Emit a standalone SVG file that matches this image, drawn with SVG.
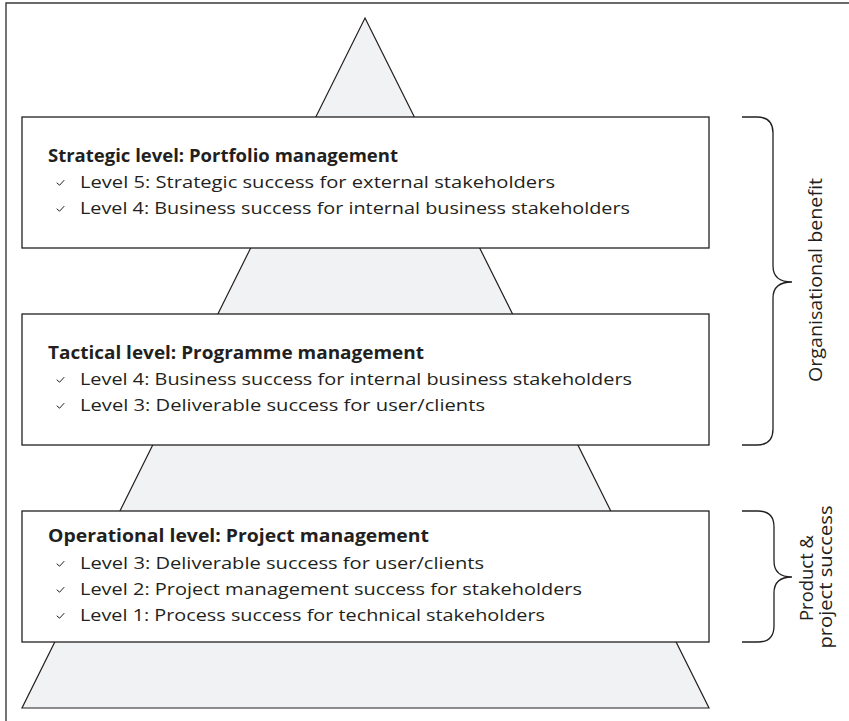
<svg xmlns="http://www.w3.org/2000/svg" xmlns:xlink="http://www.w3.org/1999/xlink" width="849" height="721" viewBox="0 0 849 721">
<style>
.frame{fill:none;stroke:#3a3a3a;stroke-width:1.4}
.pyr{fill:#f1f2f4;stroke:#231f20;stroke-width:1.2;stroke-linejoin:miter}
.box{fill:#ffffff;stroke:#231f20;stroke-width:1.3}
.brace{fill:none;stroke:#231f20;stroke-width:1.3}
.title{font-family:"Open Sans","Liberation Sans",sans-serif;font-size:17px;font-weight:700;fill:#231f20}
.item{font-family:"Open Sans","Liberation Sans",sans-serif;font-size:17px;fill:#231f20}
.side{font-family:"Open Sans","Liberation Sans",sans-serif;font-size:17.5px;fill:#231f20;text-anchor:middle}
.chk{fill:none;stroke:#231f20;stroke-width:1;stroke-linecap:round;stroke-linejoin:round}
</style>
<defs>
<path id="check" class="chk" d="M0,0 L2.6,2.2 L7,-2.6"/>
</defs>
<path class="frame" d="M849,3 H6 V721"/>
<g id="pyramid">
<polygon class="pyr" points="365,18 709,708 22,708"/>
</g>
<g id="strategic">
<rect class="box" x="22" y="117" width="687" height="131"/>
<text class="title" x="48" y="162" textLength="350" lengthAdjust="spacingAndGlyphs">Strategic level: Portfolio management</text>
<use xlink:href="#check" x="57" y="183"/>
<text class="item" x="80" y="188" textLength="475" lengthAdjust="spacingAndGlyphs">Level 5: Strategic success for external stakeholders</text>
<use xlink:href="#check" x="57" y="209"/>
<text class="item" x="80" y="214" textLength="550" lengthAdjust="spacingAndGlyphs">Level 4: Business success for internal business stakeholders</text>
</g>
<g id="tactical">
<rect class="box" x="22" y="314" width="687" height="131"/>
<text class="title" x="48" y="359" textLength="376" lengthAdjust="spacingAndGlyphs">Tactical level: Programme management</text>
<use xlink:href="#check" x="57" y="380"/>
<text class="item" x="80" y="385" textLength="552" lengthAdjust="spacingAndGlyphs">Level 4: Business success for internal business stakeholders</text>
<use xlink:href="#check" x="57" y="406"/>
<text class="item" x="80" y="411" textLength="405" lengthAdjust="spacingAndGlyphs">Level 3: Deliverable success for user/clients</text>
</g>
<g id="operational">
<rect class="box" x="22" y="511" width="687" height="131"/>
<text class="title" x="48" y="542" textLength="381" lengthAdjust="spacingAndGlyphs">Operational level: Project management</text>
<use xlink:href="#check" x="57" y="564"/>
<text class="item" x="80" y="569" textLength="404" lengthAdjust="spacingAndGlyphs">Level 3: Deliverable success for user/clients</text>
<use xlink:href="#check" x="57" y="590"/>
<text class="item" x="80" y="595" textLength="502" lengthAdjust="spacingAndGlyphs">Level 2: Project management success for stakeholders</text>
<use xlink:href="#check" x="57" y="616"/>
<text class="item" x="80" y="621" textLength="465" lengthAdjust="spacingAndGlyphs">Level 1: Process success for technical stakeholders</text>
</g>
<g id="connectors">
<path class="brace" d="M742,117 H757 Q773,117 773,133 V266 Q773,282 792,282 Q773,282 773,298 V429 Q773,445 757,445 H742"/>
<path class="brace" d="M742,511 H758 Q774,511 774,527 V561 Q774,577 792,577 Q774,577 774,593 V626 Q774,642 758,642 H742"/>
</g>
<g id="org-benefit">
<text class="side" transform="translate(822,280) rotate(-90)" textLength="204" lengthAdjust="spacingAndGlyphs">Organisational benefit</text>
</g>
<g id="product-success">
<text class="side" transform="translate(813,578) rotate(-90)" textLength="86" lengthAdjust="spacingAndGlyphs">Product &amp;</text>
<text class="side" transform="translate(832,577) rotate(-90)" textLength="143" lengthAdjust="spacingAndGlyphs">project success</text>
</g>
</svg>
